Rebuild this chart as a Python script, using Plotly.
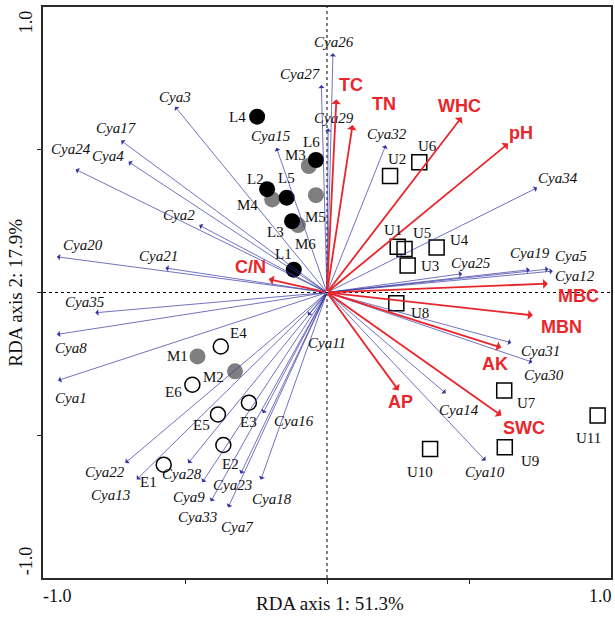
import plotly.graph_objects as go

# ---------------- data ----------------
species = ["Cya1", "Cya2", "Cya3", "Cya4", "Cya5", "Cya7", "Cya8", "Cya9", "Cya10", "Cya11",
           "Cya12", "Cya13", "Cya14", "Cya15", "Cya16", "Cya17", "Cya18", "Cya19", "Cya20", "Cya21",
           "Cya22", "Cya23", "Cya24", "Cya25", "Cya26", "Cya27", "Cya28", "Cya29", "Cya30", "Cya31",
           "Cya32", "Cya33", "Cya34", "Cya35"]
species_x = [-0.947, -0.450, -0.535, -0.699, 0.780, -0.348, -0.951, -0.439, 0.558, -0.067,
             0.795, -0.670, 0.418, -0.178, -0.226, -0.725, -0.233, 0.714, -0.951, -0.569,
             -0.710, -0.304, -0.885, 0.476, 0.021, -0.020, -0.489, 0.004, 0.723, 0.649,
             0.207, -0.409, 0.740, -0.816]
species_y = [-0.308, 0.236, 0.651, 0.458, 0.082, -0.753, -0.147, -0.665, -0.589, -0.080,
             0.075, -0.655, -0.353, 0.507, -0.423, 0.532, -0.656, 0.080, 0.125, 0.086,
             -0.597, -0.635, 0.431, 0.066, 0.838, 0.727, -0.598, 0.575, -0.244, -0.176,
             0.516, -0.732, 0.367, -0.071]

env = ["TC", "TN", "WHC", "pH", "C/N", "MBC", "MBN", "AK", "AP", "SWC"]
env_x = [0.033, 0.090, 0.474, 0.638, -0.205, 0.778, 0.725, 0.614, 0.252, 0.614]
env_y = [0.677, 0.587, 0.614, 0.522, 0.047, 0.031, -0.080, -0.193, -0.343, -0.431]

L_names = ["L1", "L2", "L3", "L4", "L5", "L6"]
L_x = [-0.117, -0.211, -0.123, -0.246, -0.142, -0.039]
L_y = [0.080, 0.362, 0.250, 0.616, 0.332, 0.464]

M_names = ["M1", "M2", "M3", "M4", "M5", "M6"]
M_x = [-0.456, -0.324, -0.064, -0.193, -0.039, -0.102]
M_y = [-0.224, -0.276, 0.443, 0.326, 0.341, 0.236]

E_names = ["E1", "E2", "E3", "E4", "E5", "E6"]
E_x = [-0.575, -0.365, -0.275, -0.374, -0.384, -0.474]
E_y = [-0.603, -0.534, -0.386, -0.189, -0.427, -0.323]

U_names = ["U1", "U2", "U3", "U4", "U5", "U6", "U7", "U8", "U9", "U10", "U11"]
U_x = [0.249, 0.222, 0.284, 0.386, 0.273, 0.325, 0.624, 0.244, 0.626, 0.363, 0.953]
U_y = [0.160, 0.408, 0.095, 0.158, 0.152, 0.456, -0.343, -0.038, -0.542, -0.548, -0.431]

# ---------------- label placement (pixel offsets from point; +y = up) ----------------
species_off = {
    "Cya1": (13, -18), "Cya2": (-20, 10), "Cya3": (0, 10), "Cya4": (-20, 6), "Cya5": (22, 13),
    "Cya7": (9, -20), "Cya8": (14, -14), "Cya9": (-13, -15), "Cya10": (0, -11), "Cya11": (19, -28),
    "Cya12": (22, -5), "Cya13": (-26, -15), "Cya14": (13, -17), "Cya15": (-5, 12), "Cya16": (31, -8),
    "Cya17": (-5, 13), "Cya18": (11, -19), "Cya19": (0, 17), "Cya20": (26, 12), "Cya21": (-7, 12),
    "Cya22": (-20, -9), "Cya23": (-8, -11), "Cya24": (-5, 20), "Cya25": (9, 11), "Cya26": (1, 11),
    "Cya27": (-21, 11), "Cya28": (-6, -11), "Cya29": (6, 10), "Cya30": (12, -13), "Cya31": (29, -8),
    "Cya32": (1, 11), "Cya33": (-13, -16), "Cya34": (21, 10), "Cya35": (-10, 11),
}
env_off = {
    "TC": (15, 14), "TN": (31, 21), "WHC": (-2, 11), "pH": (13, 10), "C/N": (-18, 12),
    "MBC": (31, -12), "MBN": (29, -12), "AK": (-6, -16), "AP": (2, -12), "SWC": (23, -12),
}
sample_off = {
    "L1": (-10, 16), "L2": (-12, 10), "L3": (-17, -11), "L4": (-20, 0), "L5": (0, 20), "L6": (-4, 18),
    "M1": (-20, 0), "M2": (-21, -6), "M3": (-13, 11), "M4": (-25, -6), "M5": (0, -22), "M6": (7, -19),
    "E1": (-15, -17), "E2": (7, -19), "E3": (0, -19), "E4": (18, 13), "E5": (-16, -11), "E6": (-19, -7),
    "U1": (-5, 17), "U2": (7, 17), "U3": (22, -1), "U4": (23, 7), "U5": (17, 16), "U6": (8, 16),
    "U7": (22, -13), "U8": (24, -10), "U9": (25, -14), "U10": (-10, -23), "U11": (-9, -22),
}

SERIF = "Liberation Serif, Times New Roman, serif"
SANS = "Liberation Sans, Arial, sans-serif"
RED = "#e8262b"
BLUE = "#3535a5"

fig = go.Figure()

# sample markers (M under L)
fig.add_trace(go.Scatter(x=M_x, y=M_y, mode="markers",
                         marker=dict(symbol="circle", size=16, color="#7f7f7f", line=dict(width=0)),
                         hoverinfo="skip", showlegend=False))
fig.add_trace(go.Scatter(x=L_x, y=L_y, mode="markers",
                         marker=dict(symbol="circle", size=16, color="#000000", line=dict(width=0)),
                         hoverinfo="skip", showlegend=False))
fig.add_trace(go.Scatter(x=E_x, y=E_y, mode="markers",
                         marker=dict(symbol="circle-open", size=15, color="#000000", line=dict(width=1.5)),
                         hoverinfo="skip", showlegend=False))
fig.add_trace(go.Scatter(x=U_x, y=U_y, mode="markers",
                         marker=dict(symbol="square-open", size=15, color="#000000", line=dict(width=1.5)),
                         hoverinfo="skip", showlegend=False))

ann = []
# species arrows
for n, x, y in zip(species, species_x, species_y):
    ann.append(dict(x=x, y=y, ax=0, ay=0, xref="x", yref="y", axref="x", ayref="y",
                    text="", showarrow=True, arrowhead=1, arrowsize=1.5, arrowwidth=0.7,
                    arrowcolor=BLUE, standoff=0, startstandoff=0))
    dx, dy = species_off[n]
    ann.append(dict(x=x, y=y, xref="x", yref="y", text="<i>%s</i>" % n, showarrow=False,
                    xshift=dx, yshift=dy, font=dict(family=SERIF, size=15, color="#111111")))
# environmental arrows
for n, x, y in zip(env, env_x, env_y):
    ann.append(dict(x=x, y=y, ax=0, ay=0, xref="x", yref="y", axref="x", ayref="y",
                    text="", showarrow=True, arrowhead=1, arrowsize=0.9, arrowwidth=1.8,
                    arrowcolor=RED, standoff=0, startstandoff=0))
    dx, dy = env_off[n]
    ann.append(dict(x=x, y=y, xref="x", yref="y", text="<b>%s</b>" % n, showarrow=False,
                    xshift=dx, yshift=dy, font=dict(family=SANS, size=18, color=RED)))
# sample labels
for names, xs, ys in [(L_names, L_x, L_y), (M_names, M_x, M_y), (E_names, E_x, E_y), (U_names, U_x, U_y)]:
    for n, x, y in zip(names, xs, ys):
        dx, dy = sample_off[n]
        ann.append(dict(x=x, y=y, xref="x", yref="y", text=n, showarrow=False,
                        xshift=dx, yshift=dy, font=dict(family=SERIF, size=15, color="#111111")))

# axis end labels and titles
tick_font = dict(family=SERIF, size=18, color="#111111")
C = dict(xref="paper", yref="paper", showarrow=False, xanchor="center", yanchor="middle")
ann += [
    dict(x=-0.030, y=0.975, text="1.0", textangle=-90, font=tick_font, **C),
    dict(x=-0.030, y=0.031, text="-1.0", textangle=-90, font=tick_font, **C),
    dict(x=0.026, y=-0.032, text="-1.0", font=tick_font, **C),
    dict(x=0.981, y=-0.032, text="1.0", font=tick_font, **C),
    dict(x=0.505, y=-0.044, text="RDA axis 1: 51.3%",
         font=dict(family=SERIF, size=19, color="#111111"), **C),
    dict(x=-0.049, y=0.5, text="RDA axis 2: 17.9%", textangle=-90,
         font=dict(family=SERIF, size=19, color="#111111"), **C),
]

shapes = [
    dict(type="line", x0=0, x1=0, y0=-1, y1=1, xref="x", yref="y",
         line=dict(color="#000000", width=1, dash="dot"), layer="below"),
    dict(type="line", x0=-1, x1=1, y0=0, y1=0, xref="x", yref="y",
         line=dict(color="#000000", width=1, dash="dot"), layer="below"),
]

axis_common = dict(range=[-1, 1], showgrid=False, zeroline=False, showline=True, mirror=True,
                   linecolor="#2a2a2a", linewidth=1.5, ticks="outside", ticklen=4,
                   tickcolor="#2a2a2a", tickvals=[-0.5, 0, 0.5], showticklabels=False, fixedrange=True)

fig.update_layout(
    width=615, height=617,
    margin=dict(l=43, r=2, t=7, b=39),
    paper_bgcolor="white", plot_bgcolor="white",
    xaxis=axis_common, yaxis=axis_common,
    annotations=ann, shapes=shapes, showlegend=False,
)

fig.write_html("out.html", config={"displayModeBar": False},
               post_script="document.body.style.margin='0px';document.body.style.overflow='hidden';")
